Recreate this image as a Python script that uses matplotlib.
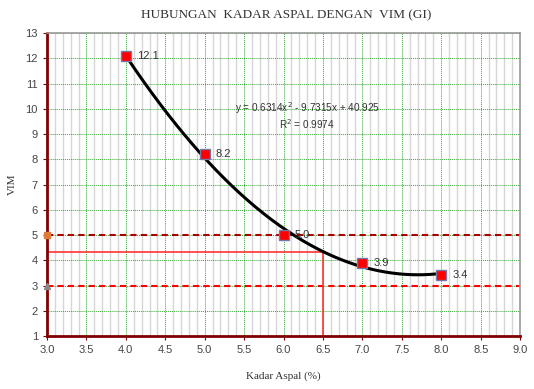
import numpy as np
import matplotlib.pyplot as plt

kadar_aspal = [4.0, 5.0, 6.0, 7.0, 8.0]
vim = [12.1, 8.2, 5.0, 3.9, 3.4]
vim_labels = ['12.1', '8.2', '5.0', '3.9', '3.4']
trend_coef = [0.6314, -9.7315, 40.925]
batas_atas = 5.0
batas_bawah = 3.0
kadar_pilih = 6.5

fig = plt.figure(figsize=(5.34, 3.89), dpi=100)
ax = fig.add_axes([0.088, 0.136, 0.886, 0.779])

ax.set_xlim(3.0, 9.0)
ax.set_ylim(1, 13)
ax.set_xticks(np.arange(3.0, 9.01, 0.5))
ax.set_xticklabels(['%.1f' % v for v in np.arange(3.0, 9.01, 0.5)])
ax.set_yticks(range(1, 14))
ax.set_xticks(np.arange(3.0, 9.01, 0.1), minor=True)

ax.grid(which='minor', axis='x', color='#d6d6d6', lw=1.0, ls='-')
ax.grid(which='major', axis='both', color='#33aa33', lw=0.7, ls=(0, (1, 1)))
ax.set_axisbelow(True)
ax.tick_params(which='minor', length=0)
ax.tick_params(which='major', length=3, colors='#800000', labelcolor='#444444',
               labelsize=8, labelfontfamily='Liberation Sans')

for s in ['left', 'bottom']:
    ax.spines[s].set_color('#800000')
    ax.spines[s].set_linewidth(2)
for s in ['right', 'top']:
    ax.spines[s].set_color('#999999')
    ax.spines[s].set_linewidth(1.2)

# batas VIM
ax.axhline(batas_atas, color='#aa0000', lw=1.5, ls=(0, (3, 2)))
ax.axhline(batas_bawah, color='#ff0000', lw=1.5, ls=(0, (3, 2)))
ax.plot([3.0], [batas_atas], 's', color='#e07b39', ms=5, clip_on=False, zorder=5)
ax.plot([3.0], [batas_bawah], '^', color='#888888', ms=5, clip_on=False, zorder=5)

# garis kadar aspal terpilih
y_pilih = np.polyval(trend_coef, kadar_pilih)
ax.plot([3.0, kadar_pilih, kadar_pilih], [y_pilih, y_pilih, 1], color='#ff3333', lw=1.2)

# trendline
xs = np.linspace(min(kadar_aspal), max(kadar_aspal), 200)
ax.plot(xs, np.polyval(trend_coef, xs), color='black', lw=2.2, zorder=4)

ax.plot(kadar_aspal, vim, 's', color='red', mec='#7777aa', ms=7, zorder=6)
for x, y, t in zip(kadar_aspal, vim, vim_labels):
    ax.text(x + 0.14, y, t, fontsize=8, color='#333333', va='center',
            family='Liberation Sans', zorder=7)

ax.text(6.3, 9.75, 'y = 0.6314x$^2$ - 9.7315x + 40.925\nR$^2$ = 0.9974',
        fontsize=7.2, color='#333333', ha='center', va='center',
        family='Liberation Sans', linespacing=1.1)

fig.text(0.535, 0.962, 'HUBUNGAN  KADAR ASPAL DENGAN  VIM (GI)', ha='center', va='center',
         fontsize=9.5, family='Liberation Serif', color='#333333')
ax.set_xlabel('Kadar Aspal (%)', fontsize=8, family='Liberation Serif', color='#333333', labelpad=12)
ax.set_ylabel('VIM', fontsize=8, family='Liberation Serif', color='#333333', labelpad=6)

fig.savefig('out.png', dpi=100)
